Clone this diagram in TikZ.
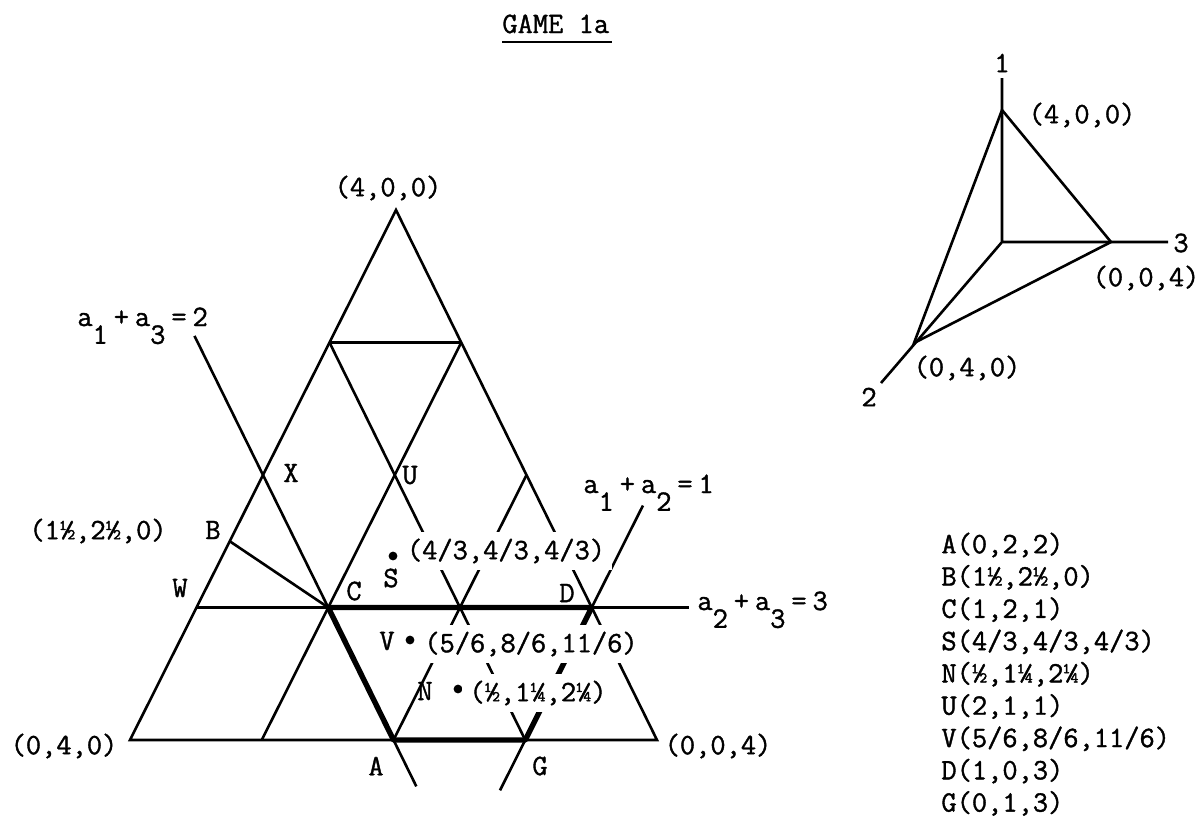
\documentclass[tikz,border=0pt]{standalone}
\usepackage{fontspec}
\setmonofont{Latin Modern Mono}[FakeBold=1.3]
\usepackage{tikz}
\usetikzlibrary{calc}
% lowered full-size index, as on the typewriter
\newcommand{\low}[1]{\raisebox{-0.6em}{#1}}
\newcommand{\gap}{\hspace{0.2em}}

\begin{document}
\begin{tikzpicture}[x=0.5pt, y=-0.5pt,
  gridline/.style={line width=1.3pt},
  hot/.style={line width=2.7pt, line join=round},
  lbl/.style={font=\ttfamily\fontsize{14.8}{17}\selectfont, inner sep=0pt},
  cut/.style={lbl, fill=white, inner sep=3.5pt},
  dot/.style={circle, fill, inner sep=0pt, minimum size=4.4pt}]
  \useasboundingbox (0,0) rectangle (1202,825);
  % corners of the simplex a1+a2+a3=4
  \coordinate (T) at (396,210);
  \coordinate (L) at (130,740);
  \coordinate (R) at (657,740);
  % grid points
  \coordinate (p310) at (barycentric cs:T=3,L=1,R=0);
  \coordinate (p301) at (barycentric cs:T=3,L=0,R=1);
  \coordinate (X) at (barycentric cs:T=2,L=2,R=0);
  \coordinate (U) at (barycentric cs:T=2,L=1,R=1);
  \coordinate (p202) at (barycentric cs:T=2,L=0,R=2);
  \coordinate (W) at (barycentric cs:T=1,L=3,R=0);
  \coordinate (C) at (barycentric cs:T=1,L=2,R=1);
  \coordinate (D) at (barycentric cs:T=1,L=0,R=3);
  \coordinate (p031) at (barycentric cs:T=0,L=3,R=1);
  \coordinate (A) at (barycentric cs:T=0,L=2,R=2);
  \coordinate (G) at (barycentric cs:T=0,L=1,R=3);
  \coordinate (B) at (barycentric cs:T=1.5,L=2.5,R=0);
  % free ends of the three constraint lines
  \coordinate (e13a) at ($(C)!2.05!(X)$);
  \coordinate (e13b) at ($(C)!1.35!(A)$);
  \coordinate (e12a) at ($(G)!1.77!(D)$);
  \coordinate (e12b) at ($(D)!1.38!(G)$);
  \coordinate (e23) at ($(W)!1.247!(D)$);

  % triangle and grid
  \draw[gridline] (T) -- (L) -- (R) -- cycle;
  \draw[gridline] (p310) -- (p301);
  \draw[gridline] (W) -- (e23);
  \draw[gridline] (p301) -- (p031);
  \draw[gridline] (p202) -- (A);
  \draw[gridline] (e12a) -- (e12b);
  \draw[gridline] (p310) -- (G);
  \draw[gridline] (e13a) -- (e13b);
  \draw[gridline] (B) -- (C);
  % heavy boundary C-D-G-A
  \draw[hot] (C) -- (D) -- (G) -- (A) -- cycle;

  % points S, V, N
  \node[dot] (sdot) at (393,556) {};
  \node[dot] (vdot) at (410,640) {};
  \node[dot] (ndot) at (458,689) {};
  \node[cut] (scoord) at (506,551) {(4/3,4/3,4/3)};
  \node[cut] (vcoord) at (531,644) {(5/6,8/6,11/6)};
  \node[cut] (ncoord) at (538,693) {(½,1¼,2¼)};

  % letters
  \node[lbl] (lX) at (291,473) {X};
  \node[lbl] (lU) at (410,475) {U};
  \node[lbl] (lB) at (213,530) {B};
  \node[lbl] (lW) at (180,588) {W};
  \node[lbl] (lC) at (354,591) {C};
  \node[lbl] (lS) at (391,578) {S};
  \node[lbl] (lD) at (567,593) {D};
  \node[lbl] (lV) at (387,641) {V};
  \node[lbl] (lN) at (425,691) {N};
  \node[lbl] (lA) at (376,766) {A};
  \node[lbl] (lG) at (540,766) {G};

  % corner values
  \node[lbl] (top) at (388,188) {(4,0,0)};
  \node[lbl] (left) at (64,746) {(0,4,0)};
  \node[lbl] (right) at (718,746) {(0,0,4)};
  \node[lbl] (bval) at (98,531) {(1½,2½,0)};

  % constraint labels
  \node[lbl, anchor=base west] (eq13) at (77,326) {a\low{1}\gap+\gap a\low{3}\gap=\gap2};
  \node[lbl, anchor=base west] (eq12) at (583,493) {a\low{1}\gap+\gap a\low{2}\gap=\gap1};
  \node[lbl, anchor=base west] (eq23) at (697,610) {a\low{2}\gap+\gap a\low{3}\gap=\gap3};

  % title
  \node[lbl, anchor=base west] (title) at (502,33) {GAME 1a};
  \draw[line width=1pt] ($(title.base west)+(0,9)$) -- ($(title.base east)+(2,9)$);

  % small axes sketch
  \coordinate (O) at (1002,242);
  \coordinate (q1) at (1002,110);
  \coordinate (q1e) at (1002,78);
  \coordinate (q3) at (1111,242);
  \coordinate (q3e) at (1168,242);
  \coordinate (q2) at (914,343);
  \coordinate (q2e) at (881,383);
  \draw[gridline] (O) -- (q1e) (O) -- (q3e) (O) -- (q2e);
  \draw[gridline] (q1) -- (q2) -- (q3) -- cycle;
  \node[lbl] (ax1) at (1002,63) {1};
  \node[lbl] (ax3) at (1181,243) {3};
  \node[lbl] (ax2) at (869,397) {2};
  \node[lbl] (q1l) at (1082,115) {(4,0,0)};
  \node[lbl] (q3l) at (1146,278) {(0,0,4)};
  \node[lbl] (q2l) at (967,368) {(0,4,0)};

  % list of points
  \foreach \t [count=\i from 0] in {{A(0,2,2)},{B(1½,2½,0)},{C(1,2,1)},
      {S(4/3,4/3,4/3)},{N(½,1¼,2¼)},{U(2,1,1)},{V(5/6,8/6,11/6)},
      {D(1,0,3)},{G(0,1,3)}}
    \node[lbl, anchor=west] (leg\i) at (941,545+32.3*\i) {\t};
\end{tikzpicture}
\end{document}
